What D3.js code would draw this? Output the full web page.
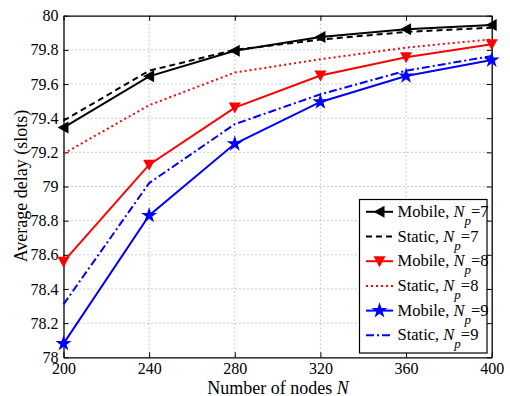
<!DOCTYPE html>
<html>
<head>
<meta charset="utf-8">
<script src="https://cdn.jsdelivr.net/npm/d3@7"></script>
<style>
body { margin: 0; background: #fff; }
</style>
</head>
<body>
<svg id="chart" width="510" height="396"></svg>
<script>
var nodes = [200, 240, 280, 320, 360, 400];
var mobile7 = [79.345, 79.645, 79.795, 79.875, 79.92, 79.945];
var static7 = [79.385, 79.678, 79.80, 79.86, 79.905, 79.93];
var mobile8 = [78.56, 79.128, 79.462, 79.65, 79.757, 79.833];
var static8 = [79.192, 79.476, 79.667, 79.745, 79.813, 79.862];
var mobile9 = [78.08, 78.83, 79.25, 79.495, 79.647, 79.74];
var static9 = [78.31, 79.02, 79.365, 79.54, 79.678, 79.764];
var yTicks = [78, 78.2, 78.4, 78.6, 78.8, 79, 79.2, 79.4, 79.6, 79.8, 80];

var FONT = "Liberation Serif";

var series = [
    { name: "Mobile", np: 7, values: mobile7, color: "#000", dash: null, marker: "left" },
    { name: "Static", np: 7, values: static7, color: "#000", dash: "6,4", marker: null },
    { name: "Mobile", np: 8, values: mobile8, color: "#ff0000", dash: null, marker: "down" },
    { name: "Static", np: 8, values: static8, color: "#ff0000", dash: "2,3", marker: null },
    { name: "Mobile", np: 9, values: mobile9, color: "#0000ff", dash: null, marker: "star" },
    { name: "Static", np: 9, values: static9, color: "#0000ff", dash: "8,3,2,3", marker: null }
];

var svg = d3.select("#chart");
var pLeft = 63.5, pRight = 491.7, pTop = 15.7, pBottom = 357.3;

var x = d3.scaleLinear().domain([200, 400]).range([pLeft, pRight]);
var y = d3.scaleLinear().domain([78, 80]).range([pBottom, pTop]);

// grid
var grid = svg.append("g");
grid.selectAll(".gx")
    .data(nodes.slice(1, -1))
    .enter().append("line")
    .attr("x1", d => x(d)).attr("x2", d => x(d))
    .attr("y1", pTop).attr("y2", pBottom)
    .attr("stroke", "#999").attr("stroke-width", 1)
    .attr("stroke-dasharray", "1,3");
grid.selectAll(".gy")
    .data(yTicks.slice(1, -1))
    .enter().append("line")
    .attr("y1", d => y(d)).attr("y2", d => y(d))
    .attr("x1", pLeft).attr("x2", pRight)
    .attr("stroke", "#999").attr("stroke-width", 1)
    .attr("stroke-dasharray", "1,3");

// axes (ticks inward, MATLAB box)
var xAxis = svg.append("g")
    .attr("transform", `translate(0,${pBottom})`)
    .call(d3.axisBottom(x).tickValues(nodes).tickSizeInner(-5).tickSizeOuter(0).tickPadding(5));
var xTop = svg.append("g")
    .attr("transform", `translate(0,${pTop})`)
    .call(d3.axisTop(x).tickValues(nodes).tickSizeInner(-5).tickSizeOuter(0).tickFormat(""));
var yAxis = svg.append("g")
    .attr("transform", `translate(${pLeft},0)`)
    .call(d3.axisLeft(y).tickValues(yTicks).tickSizeInner(-5).tickSizeOuter(0).tickPadding(5)
        .tickFormat(d => d3.format("")(+d.toFixed(1))));
var yRight = svg.append("g")
    .attr("transform", `translate(${pRight},0)`)
    .call(d3.axisRight(y).tickValues(yTicks).tickSizeInner(-5).tickSizeOuter(0).tickFormat(""));

[xAxis, xTop, yAxis, yRight].forEach(a => {
    a.attr("font-family", FONT).attr("font-size", 16);
    a.select(".domain").attr("stroke", "#000").attr("stroke-width", 1.3);
    a.selectAll(".tick line").attr("stroke", "#000");
    a.selectAll("text").attr("fill", "#000");
});

// lines
var line = d3.line()
    .x((d, i) => x(nodes[i]))
    .y(d => y(d));

function drawMarker(g, type, cx, cy, color) {
    if (type == "left") {
        g.append("path")
            .attr("d", `M${cx - 6},${cy} L${cx + 5},${cy - 6} L${cx + 5},${cy + 6} Z`)
            .attr("fill", color);
    } else if (type == "down") {
        g.append("path")
            .attr("d", `M${cx - 6},${cy - 5} L${cx + 6},${cy - 5} L${cx},${cy + 6} Z`)
            .attr("fill", color);
    } else if (type == "star") {
        g.append("path")
            .attr("d", d3.symbol().type(d3.symbolStar).size(80)())
            .attr("transform", `translate(${cx},${cy})`)
            .attr("fill", color);
    }
}

series.forEach(s => {
    svg.append("path")
        .datum(s.values)
        .attr("d", line)
        .attr("fill", "none")
        .attr("stroke", s.color)
        .attr("stroke-width", 2)
        .attr("stroke-dasharray", s.dash);
    if (s.marker) {
        var mg = svg.append("g");
        s.values.forEach((v, i) => drawMarker(mg, s.marker, x(nodes[i]), y(v), s.color));
    }
});

// axis titles
var xt = svg.append("text")
    .attr("x", 278).attr("y", 394)
    .attr("text-anchor", "middle")
    .attr("font-family", FONT)
    .attr("font-size", 18);
xt.append("tspan").text("Number of nodes ");
xt.append("tspan").attr("font-style", "italic").text("N");

svg.append("text")
    .attr("transform", "translate(27,186) rotate(-90)")
    .attr("text-anchor", "middle")
    .attr("font-family", FONT)
    .attr("font-size", 18)
    .text("Average delay (slots)");

// legend
var legend = svg.append("g").attr("transform", "translate(359.5,199.5)");
legend.append("rect")
    .attr("width", 127.5).attr("height", 153.5)
    .attr("fill", "#fff").attr("stroke", "#000").attr("stroke-width", 1.2);

series.forEach((s, i) => {
    var ry = 12.3 + i * 24.7;
    legend.append("line")
        .attr("x1", 6.5).attr("x2", 33.5)
        .attr("y1", ry).attr("y2", ry)
        .attr("stroke", s.color).attr("stroke-width", 2)
        .attr("stroke-dasharray", s.dash);
    if (s.marker) drawMarker(legend, s.marker, 20, ry, s.color);
    var t = legend.append("text")
        .attr("x", 38).attr("y", ry + 5)
        .attr("font-family", FONT)
        .attr("font-size", 16.5);
    t.append("tspan").text(s.name + ", ");
    t.append("tspan").attr("font-style", "italic").text("N");
    t.append("tspan").attr("font-style", "italic").attr("font-size", 13).attr("dy", 8).text("p");
    t.append("tspan").attr("dy", -8).text("=" + s.np);
});
</script>
</body>
</html>
